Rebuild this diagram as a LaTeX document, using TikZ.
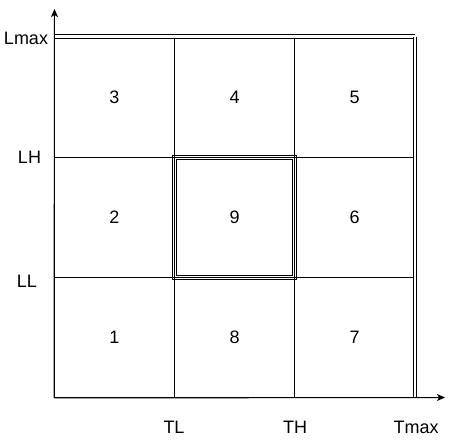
\documentclass[tikz,border=0pt]{standalone}
\usepackage{fontspec}
\setmainfont{Liberation Sans}
\usetikzlibrary{positioning,arrows.meta}

\begin{document}
\begin{tikzpicture}[x=1bp,y=1bp,
      cell/.style={draw,minimum size=120bp,inner sep=0pt,line width=1bp},
      axis/.style={-{Stealth[length=8bp,width=7bp,inset=2bp]},line width=1bp},
      dbl/.style={double,double distance=2.6bp,line width=0.9bp},
      every node/.style={font=\fontsize{18bp}{20bp}\selectfont,text=black,inner sep=0pt}]
    \useasboundingbox (0,0) rectangle (458,443);
    % middle region first, so the grid lines stay on top of it
    \node[cell,dbl] (c9) at (234.5,225.5) {9};
    \node[cell] (c1) at (114.5,105.5) {1};
    \node[cell] (c8) at (234.5,105.5) {8};
    \node[cell] (c7) at (354.5,105.5) {7};
    \node[cell] (c2) at (114.5,225.5) {2};
    \node[cell] (c6) at (354.5,225.5) {6};
    \node[cell] (c3) at (114.5,345.5) {3};
    \node[cell] (c4) at (234.5,345.5) {4};
    \node[cell] (c5) at (354.5,345.5) {5};
    % limits
    \draw[dbl,double distance=3bp,line width=1bp] (c3.north west) -- (c5.north east);
    \draw[dbl,double distance=2bp,line width=1bp] (c5.north east) -- (c7.south east);
    % axes
    \coordinate (origin) at (c1.south west);
    \coordinate (ytip) at (54.5,434);
    \coordinate (xtip) at (445,45.5);
    \draw[axis] (origin) -- (ytip);
    \draw[axis] (origin) -- (xtip);
    \node (lmax) at (26,405) {Lmax};
    \node (lh) at (29.5,285.5) {LH};
    \node (ll) at (27,161.5) {LL};
    \node (tl) at (174,15.5) {TL};
    \node (th) at (295,15.5) {TH};
    \node (tmax) at (416,15.5) {Tmax};
  \end{tikzpicture}
\end{document}
